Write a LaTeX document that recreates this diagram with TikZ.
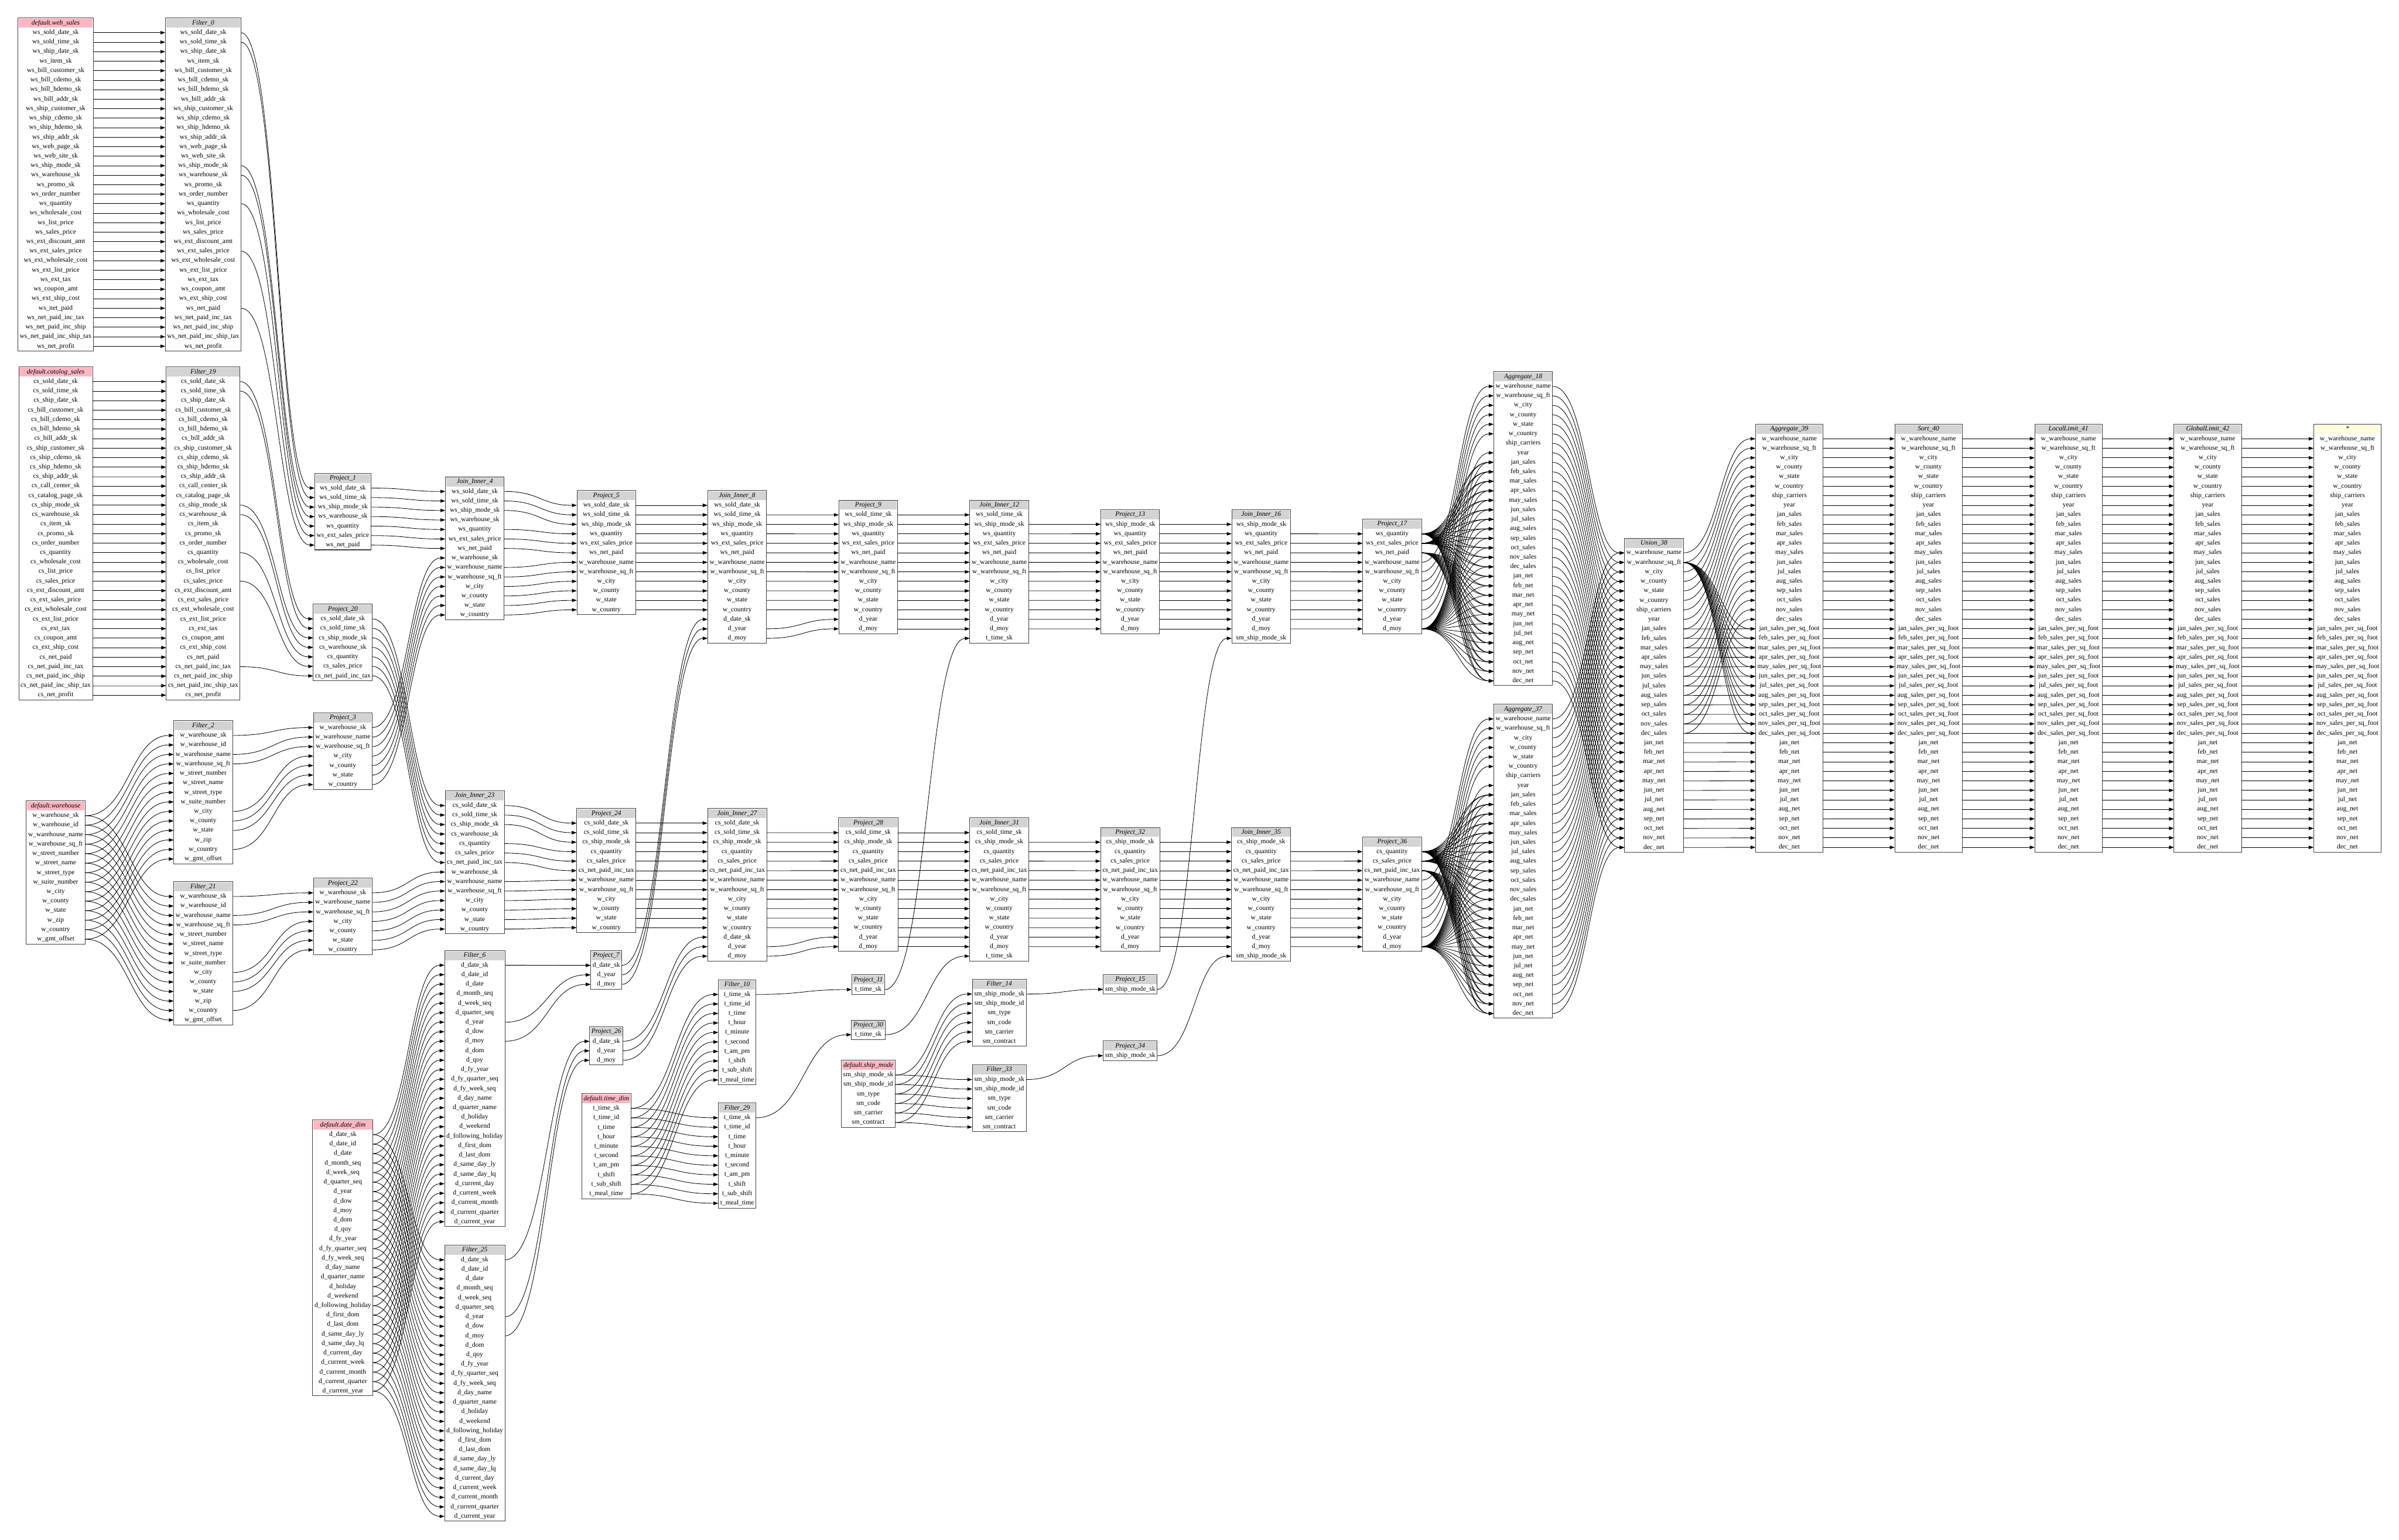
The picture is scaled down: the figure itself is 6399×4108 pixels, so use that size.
\documentclass[tikz,border=0pt]{standalone}
\usepackage{fontspec}
\setmainfont{Liberation Serif}
\usetikzlibrary{arrows.meta,calc}
\definecolor{hdrgray}{HTML}{D3D3D3}
\definecolor{hdrpink}{HTML}{FFB6C1}
\definecolor{hdryellow}{HTML}{FFFFE0}
\newdimen\tblmaxw
\newcount\tblrows
\newcommand\tblrowfont{\fontsize{18}{20}\selectfont}
\newcommand\tblhdrfont{\fontsize{18}{20}\selectfont\itshape}
\tikzset{
  rowcell/.style={inner sep=0pt, minimum height=25.35pt, font=\tblrowfont, text=black, text height=12.5pt, text depth=4pt},
  hdrcell/.style={inner sep=0pt, font=\tblhdrfont, text=black, text height=12.5pt, text depth=4pt},
  tblborder/.style={draw=black!75, line width=1.6pt},
  flow/.style={draw=black, line width=1.3pt, -{Triangle[length=13pt,width=9pt]}},
}
% register a table: measure widths outside the picture
\newcommand\deftbl[3]{%
  \setbox0=\hbox{\tblhdrfont #2}\global\tblmaxw=\wd0
  \global\tblrows=0
  \foreach \r in #3 {\setbox0=\hbox{\tblrowfont\r}\ifdim\wd0>\tblmaxw\global\tblmaxw=\wd0\fi\global\advance\tblrows by 1\relax}%
  \pgfmathsetmacro\tblTmp{\tblmaxw+10}%
  \expandafter\xdef\csname tblw@#1\endcsname{\tblTmp}%
  \expandafter\xdef\csname tbln@#1\endcsname{\the\tblrows}%
  \expandafter\gdef\csname tblh@#1\endcsname{#2}%
  \expandafter\global\expandafter\let\csname tbll@#1\endcsname#3%
}
\newcommand\optable[4]{%
  \edef\tblW{\csname tblw@#1\endcsname}%
  \edef\tblN{\csname tbln@#1\endcsname}%
  \expandafter\let\expandafter\tblList\csname tbll@#1\endcsname
  \pgfmathsetmacro\tblL{#2-\tblW/2}%
  \pgfmathsetmacro\tblR{#2+\tblW/2}%
  \pgfmathsetmacro\tblB{#3+26.5+\tblN*25.35}%
  \fill[#4] (\tblL+2,#3+2) rectangle (\tblR-2,#3+25.5);
  \node[hdrcell] (#1) at (#2,#3+13.5) {\csname tblh@#1\endcsname};
  \foreach \r [count=\i] in \tblList {\node[rowcell, minimum width=\tblW pt] (#1-\i) at (#2,{#3+26.5+(\i-0.5)*25.35}) {\r};}
  \draw[tblborder] (\tblL,#3) rectangle (\tblR,\tblB);
}
\newcommand\flowedge[2]{\draw[flow] let \p1=(#1.east), \p2=(#2.west), \n1={(\x2-\x1)/2} in (\p1) .. controls (\x1+\n1,\y1) and (\x2-\n1,\y2) .. (\p2);}
\begin{document}%
\catcode`\_=12 %
\def\wsL{ws_sold_date_sk,ws_sold_time_sk,ws_ship_date_sk,ws_item_sk,ws_bill_customer_sk,ws_bill_cdemo_sk,ws_bill_hdemo_sk,ws_bill_addr_sk,ws_ship_customer_sk,ws_ship_cdemo_sk,ws_ship_hdemo_sk,ws_ship_addr_sk,ws_web_page_sk,ws_web_site_sk,ws_ship_mode_sk,ws_warehouse_sk,ws_promo_sk,ws_order_number,ws_quantity,ws_wholesale_cost,ws_list_price,ws_sales_price,ws_ext_discount_amt,ws_ext_sales_price,ws_ext_wholesale_cost,ws_ext_list_price,ws_ext_tax,ws_coupon_amt,ws_ext_ship_cost,ws_net_paid,ws_net_paid_inc_tax,ws_net_paid_inc_ship,ws_net_paid_inc_ship_tax,ws_net_profit}%
\def\csL{cs_sold_date_sk,cs_sold_time_sk,cs_ship_date_sk,cs_bill_customer_sk,cs_bill_cdemo_sk,cs_bill_hdemo_sk,cs_bill_addr_sk,cs_ship_customer_sk,cs_ship_cdemo_sk,cs_ship_hdemo_sk,cs_ship_addr_sk,cs_call_center_sk,cs_catalog_page_sk,cs_ship_mode_sk,cs_warehouse_sk,cs_item_sk,cs_promo_sk,cs_order_number,cs_quantity,cs_wholesale_cost,cs_list_price,cs_sales_price,cs_ext_discount_amt,cs_ext_sales_price,cs_ext_wholesale_cost,cs_ext_list_price,cs_ext_tax,cs_coupon_amt,cs_ext_ship_cost,cs_net_paid,cs_net_paid_inc_tax,cs_net_paid_inc_ship,cs_net_paid_inc_ship_tax,cs_net_profit}%
\def\whL{w_warehouse_sk,w_warehouse_id,w_warehouse_name,w_warehouse_sq_ft,w_street_number,w_street_name,w_street_type,w_suite_number,w_city,w_county,w_state,w_zip,w_country,w_gmt_offset}%
\def\ddL{d_date_sk,d_date_id,d_date,d_month_seq,d_week_seq,d_quarter_seq,d_year,d_dow,d_moy,d_dom,d_qoy,d_fy_year,d_fy_quarter_seq,d_fy_week_seq,d_day_name,d_quarter_name,d_holiday,d_weekend,d_following_holiday,d_first_dom,d_last_dom,d_same_day_ly,d_same_day_lq,d_current_day,d_current_week,d_current_month,d_current_quarter,d_current_year}%
\def\tdL{t_time_sk,t_time_id,t_time,t_hour,t_minute,t_second,t_am_pm,t_shift,t_sub_shift,t_meal_time}%
\def\smL{sm_ship_mode_sk,sm_ship_mode_id,sm_type,sm_code,sm_carrier,sm_contract}%
\def\wsix{w_warehouse_name,w_warehouse_sq_ft,w_city,w_county,w_state,w_country}%
\def\pwL{w_warehouse_sk,w_warehouse_name,w_warehouse_sq_ft,w_city,w_county,w_state,w_country}%
\def\pOneL{ws_sold_date_sk,ws_sold_time_sk,ws_ship_mode_sk,ws_warehouse_sk,ws_quantity,ws_ext_sales_price,ws_net_paid}%
\def\pTwentyL{cs_sold_date_sk,cs_sold_time_sk,cs_ship_mode_sk,cs_warehouse_sk,cs_quantity,cs_sales_price,cs_net_paid_inc_tax}%
\edef\jFourL{\pOneL,\pwL}%
\edef\jTwentyThreeL{\pTwentyL,\pwL}%
\edef\pFiveL{ws_sold_date_sk,ws_sold_time_sk,ws_ship_mode_sk,ws_quantity,ws_ext_sales_price,ws_net_paid,\wsix}%
\edef\pTwentyFourL{cs_sold_date_sk,cs_sold_time_sk,cs_ship_mode_sk,cs_quantity,cs_sales_price,cs_net_paid_inc_tax,\wsix}%
\def\pSevenL{d_date_sk,d_year,d_moy}%
\edef\jEightL{\pFiveL,d_date_sk,d_year,d_moy}%
\edef\jTwentySevenL{\pTwentyFourL,d_date_sk,d_year,d_moy}%
\edef\pNineL{ws_sold_time_sk,ws_ship_mode_sk,ws_quantity,ws_ext_sales_price,ws_net_paid,\wsix,d_year,d_moy}%
\edef\pTwentyEightL{cs_sold_time_sk,cs_ship_mode_sk,cs_quantity,cs_sales_price,cs_net_paid_inc_tax,\wsix,d_year,d_moy}%
\def\tskL{t_time_sk}%
\def\smskL{sm_ship_mode_sk}%
\edef\jTwelveL{\pNineL,t_time_sk}%
\edef\jThirtyOneL{\pTwentyEightL,t_time_sk}%
\edef\pThirteenL{ws_ship_mode_sk,ws_quantity,ws_ext_sales_price,ws_net_paid,\wsix,d_year,d_moy}%
\edef\pThirtyTwoL{cs_ship_mode_sk,cs_quantity,cs_sales_price,cs_net_paid_inc_tax,\wsix,d_year,d_moy}%
\edef\jSixteenL{\pThirteenL,sm_ship_mode_sk}%
\edef\jThirtyFiveL{\pThirtyTwoL,sm_ship_mode_sk}%
\edef\pSeventeenL{ws_quantity,ws_ext_sales_price,ws_net_paid,\wsix,d_year,d_moy}%
\edef\pThirtySixL{cs_quantity,cs_sales_price,cs_net_paid_inc_tax,\wsix,d_year,d_moy}%
\def\salesL{jan_sales,feb_sales,mar_sales,apr_sales,may_sales,jun_sales,jul_sales,aug_sales,sep_sales,oct_sales,nov_sales,dec_sales}%
\def\netL{jan_net,feb_net,mar_net,apr_net,may_net,jun_net,jul_net,aug_net,sep_net,oct_net,nov_net,dec_net}%
\def\sqftL{jan_sales_per_sq_foot,feb_sales_per_sq_foot,mar_sales_per_sq_foot,apr_sales_per_sq_foot,may_sales_per_sq_foot,jun_sales_per_sq_foot,jul_sales_per_sq_foot,aug_sales_per_sq_foot,sep_sales_per_sq_foot,oct_sales_per_sq_foot,nov_sales_per_sq_foot,dec_sales_per_sq_foot}%
\edef\aggL{\wsix,ship_carriers,year,\salesL,\netL}%
\edef\finL{\wsix,ship_carriers,year,\salesL,\sqftL,\netL}%
\deftbl{ws}{default.web_sales}{\wsL}%
\deftbl{cs}{default.catalog_sales}{\csL}%
\deftbl{wh}{default.warehouse}{\whL}%
\deftbl{f0}{Filter_0}{\wsL}%
\deftbl{f19}{Filter_19}{\csL}%
\deftbl{f2}{Filter_2}{\whL}%
\deftbl{f21}{Filter_21}{\whL}%
\deftbl{p1}{Project_1}{\pOneL}%
\deftbl{p20}{Project_20}{\pTwentyL}%
\deftbl{p3}{Project_3}{\pwL}%
\deftbl{p22}{Project_22}{\pwL}%
\deftbl{dd}{default.date_dim}{\ddL}%
\deftbl{j4}{Join_Inner_4}{\jFourL}%
\deftbl{j23}{Join_Inner_23}{\jTwentyThreeL}%
\deftbl{f6}{Filter_6}{\ddL}%
\deftbl{f25}{Filter_25}{\ddL}%
\deftbl{p5}{Project_5}{\pFiveL}%
\deftbl{p24}{Project_24}{\pTwentyFourL}%
\deftbl{p7}{Project_7}{\pSevenL}%
\deftbl{p26}{Project_26}{\pSevenL}%
\deftbl{td}{default.time_dim}{\tdL}%
\deftbl{j8}{Join_Inner_8}{\jEightL}%
\deftbl{j27}{Join_Inner_27}{\jTwentySevenL}%
\deftbl{f10}{Filter_10}{\tdL}%
\deftbl{f29}{Filter_29}{\tdL}%
\deftbl{p9}{Project_9}{\pNineL}%
\deftbl{p28}{Project_28}{\pTwentyEightL}%
\deftbl{p11}{Project_11}{\tskL}%
\deftbl{p30}{Project_30}{\tskL}%
\deftbl{sm}{default.ship_mode}{\smL}%
\deftbl{j12}{Join_Inner_12}{\jTwelveL}%
\deftbl{j31}{Join_Inner_31}{\jThirtyOneL}%
\deftbl{f14}{Filter_14}{\smL}%
\deftbl{f33}{Filter_33}{\smL}%
\deftbl{p13}{Project_13}{\pThirteenL}%
\deftbl{p32}{Project_32}{\pThirtyTwoL}%
\deftbl{p15}{Project_15}{\smskL}%
\deftbl{p34}{Project_34}{\smskL}%
\deftbl{j16}{Join_Inner_16}{\jSixteenL}%
\deftbl{j35}{Join_Inner_35}{\jThirtyFiveL}%
\deftbl{p17}{Project_17}{\pSeventeenL}%
\deftbl{p36}{Project_36}{\pThirtySixL}%
\deftbl{a18}{Aggregate_18}{\aggL}%
\deftbl{a37}{Aggregate_37}{\aggL}%
\deftbl{u38}{Union_38}{\aggL}%
\deftbl{a39}{Aggregate_39}{\finL}%
\deftbl{s40}{Sort_40}{\finL}%
\deftbl{l41}{LocalLimit_41}{\finL}%
\deftbl{g42}{GlobalLimit_42}{\finL}%
\deftbl{out}{*}{\finL}%
\begin{tikzpicture}[x=1pt,y=-1pt]
\fill[white] (0,0) rectangle (6399,4108);
\useasboundingbox (0,0) rectangle (6399,4108);
\optable{ws}{148.5}{48}{hdrpink}
\optable{cs}{148.5}{979}{hdrpink}
\optable{wh}{148.5}{2137}{hdrpink}
\optable{f0}{542}{48}{hdrgray}
\optable{f19}{542}{979}{hdrgray}
\optable{f2}{542}{1923}{hdrgray}
\optable{f21}{542}{2352.6}{hdrgray}
\optable{p1}{914.5}{1263}{hdrgray}
\optable{p20}{914.5}{1612}{hdrgray}
\optable{p3}{914.5}{1902}{hdrgray}
\optable{p22}{914.5}{2343}{hdrgray}
\optable{dd}{914.5}{2988}{hdrpink}
\optable{j4}{1266.3}{1272}{hdrgray}
\optable{j23}{1266.3}{2110}{hdrgray}
\optable{f6}{1266.3}{2536}{hdrgray}
\optable{f25}{1266.3}{3322}{hdrgray}
\optable{p5}{1617.3}{1309}{hdrgray}
\optable{p24}{1617.3}{2157}{hdrgray}
\optable{p7}{1617.3}{2536.4}{hdrgray}
\optable{p26}{1617.3}{2739}{hdrgray}
\optable{td}{1617.3}{2918}{hdrpink}
\optable{j8}{1966.3}{1309}{hdrgray}
\optable{j27}{1966.3}{2157}{hdrgray}
\optable{f10}{1966.3}{2614}{hdrgray}
\optable{f29}{1966.3}{2943}{hdrgray}
\optable{p9}{2316}{1334.4}{hdrgray}
\optable{p28}{2316}{2182.3}{hdrgray}
\optable{p11}{2316}{2601}{hdrgray}
\optable{p30}{2316}{2721.5}{hdrgray}
\optable{sm}{2316}{2829}{hdrpink}
\optable{j12}{2665.4}{1334.4}{hdrgray}
\optable{j31}{2665.4}{2182.3}{hdrgray}
\optable{f14}{2665.4}{2613}{hdrgray}
\optable{f33}{2665.4}{2841}{hdrgray}
\optable{p13}{3014.7}{1359.7}{hdrgray}
\optable{p32}{3014.7}{2207.7}{hdrgray}
\optable{p15}{3014.7}{2600.5}{hdrgray}
\optable{p34}{3014.7}{2777.5}{hdrgray}
\optable{j16}{3364}{1359.7}{hdrgray}
\optable{j35}{3364}{2207.7}{hdrgray}
\optable{p17}{3713.5}{1385.1}{hdrgray}
\optable{p36}{3713.5}{2233}{hdrgray}
\optable{a18}{4062.8}{991.5}{hdrgray}
\optable{a37}{4062.8}{1879}{hdrgray}
\optable{u38}{4411.7}{1436}{hdrgray}
\optable{a39}{4772.7}{1131.5}{hdrgray}
\optable{s40}{5143.9}{1131.5}{hdrgray}
\optable{l41}{5517.3}{1131.5}{hdrgray}
\optable{g42}{5888.8}{1131.5}{hdrgray}
\optable{out}{6261.4}{1131.5}{hdryellow}
% ---------------- connectors ----------------
\foreach \i in {1,...,34}{\flowedge{ws-\i}{f0-\i}\flowedge{cs-\i}{f19-\i}}
\foreach \i in {1,...,14}{\flowedge{wh-\i}{f2-\i}\flowedge{wh-\i}{f21-\i}}
\foreach \i in {1,...,28}{\flowedge{dd-\i}{f6-\i}\flowedge{dd-\i}{f25-\i}}
\foreach \i in {1,...,10}{\flowedge{td-\i}{f10-\i}\flowedge{td-\i}{f29-\i}}
\foreach \i in {1,...,6}{\flowedge{sm-\i}{f14-\i}\flowedge{sm-\i}{f33-\i}}
\foreach \ua/\ub in {1/1,2/2,15/3,16/4,19/5,24/6,30/7}{\flowedge{f0-\ua}{p1-\ub}}
\foreach \ua/\ub in {1/1,2/2,14/3,15/4,19/5,22/6,31/7}{\flowedge{f19-\ua}{p20-\ub}}
\foreach \ua/\ub in {1/1,3/2,4/3,9/4,10/5,11/6,13/7}{\flowedge{f2-\ua}{p3-\ub}\flowedge{f21-\ua}{p22-\ub}}
\foreach \ua/\ub in {1/1,7/2,9/3}{\flowedge{f6-\ua}{p7-\ub}\flowedge{f25-\ua}{p26-\ub}}
\flowedge{f10-1}{p11-1}\flowedge{f29-1}{p30-1}\flowedge{f14-1}{p15-1}\flowedge{f33-1}{p34-1}
\foreach \i [evaluate=\i as \k using int(\i+7)] in {1,...,7}{\flowedge{p1-\i}{j4-\i}\flowedge{p3-\i}{j4-\k}\flowedge{p20-\i}{j23-\i}\flowedge{p22-\i}{j23-\k}}
\foreach \ua/\ub in {1/1,2/2,3/3,5/4,6/5,7/6,9/7,10/8,11/9,12/10,13/11,14/12}{\flowedge{j4-\ua}{p5-\ub}\flowedge{j23-\ua}{p24-\ub}}
\foreach \i in {1,...,12}{\flowedge{p5-\i}{j8-\i}\flowedge{p24-\i}{j27-\i}}
\foreach \i [evaluate=\i as \k using int(\i+12)] in {1,2,3}{\flowedge{p7-\i}{j8-\k}\flowedge{p26-\i}{j27-\k}}
\foreach \ua/\ub in {2/1,3/2,4/3,5/4,6/5,7/6,8/7,9/8,10/9,11/10,12/11,14/12,15/13}{\flowedge{j8-\ua}{p9-\ub}\flowedge{j27-\ua}{p28-\ub}}
\foreach \i in {1,...,13}{\flowedge{p9-\i}{j12-\i}\flowedge{p28-\i}{j31-\i}}
\flowedge{p11-1}{j12-14}\flowedge{p30-1}{j31-14}
\foreach \i [evaluate=\i as \k using int(\i-1)] in {2,...,13}{\flowedge{j12-\i}{p13-\k}\flowedge{j31-\i}{p32-\k}}
\foreach \i in {1,...,12}{\flowedge{p13-\i}{j16-\i}\flowedge{p32-\i}{j35-\i}}
\flowedge{p15-1}{j16-13}\flowedge{p34-1}{j35-13}
\foreach \i [evaluate=\i as \k using int(\i-1)] in {2,...,12}{\flowedge{j16-\i}{p17-\k}\flowedge{j35-\i}{p36-\k}}
\foreach \us/\ud in {p17/a18,p36/a37}{%
  \foreach \ua/\ub in {4/1,5/2,6/3,7/4,8/5,9/6,10/8}{\flowedge{\us-\ua}{\ud-\ub}}
  \foreach \j in {9,...,32}{\flowedge{\us-1}{\ud-\j}\flowedge{\us-11}{\ud-\j}}
  \foreach \j in {9,...,20}{\flowedge{\us-2}{\ud-\j}}
  \foreach \j in {21,...,32}{\flowedge{\us-3}{\ud-\j}}
}
\foreach \i in {1,...,32}{\flowedge{a18-\i}{u38-\i}\flowedge{a37-\i}{u38-\i}}
\foreach \i in {1,...,8}{\flowedge{u38-\i}{a39-\i}}
\foreach \j in {21,...,32}{\flowedge{u38-2}{a39-\j}}
\foreach \i [evaluate=\i as \k using int(\i+12)] in {9,...,20}{\flowedge{u38-\i}{a39-\i}\flowedge{u38-\i}{a39-\k}}
\foreach \i [evaluate=\i as \k using int(\i+12)] in {21,...,32}{\flowedge{u38-\i}{a39-\k}}
\foreach \i in {1,...,44}{\flowedge{a39-\i}{s40-\i}\flowedge{s40-\i}{l41-\i}\flowedge{l41-\i}{g42-\i}\flowedge{g42-\i}{out-\i}}
\end{tikzpicture}%
\end{document}
